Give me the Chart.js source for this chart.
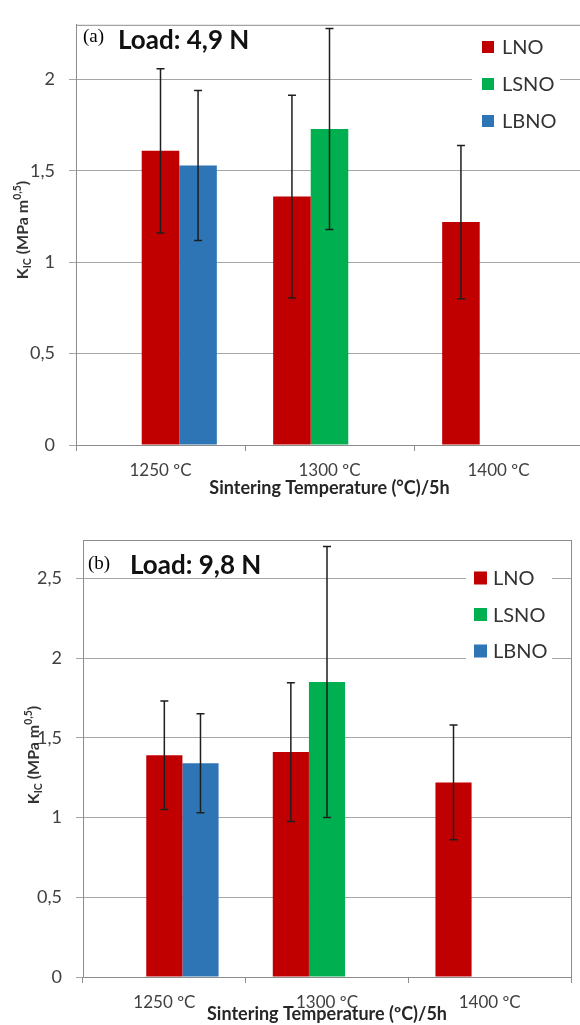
<!DOCTYPE html>
<html>
<head>
<meta charset="utf-8">
<script src="https://cdn.jsdelivr.net/npm/chart.js@4.4.1/dist/chart.umd.min.js"></script>
<style>
  html, body { margin: 0; padding: 0; background: #fff; overflow: hidden; }
  .panel { position: absolute; left: 0; }
</style>
</head>
<body>
<div class="panel" style="top:0"><canvas id="chart-a" width="590" height="500"></canvas></div>
<div class="panel" style="top:500px"><canvas id="chart-b" width="580" height="525"></canvas></div>
<script>
const categories = ['1250 ºC', '1300 ºC', '1400 ºC'];
const seriesNames = ['LNO', 'LSNO', 'LBNO'];
const seriesColors = ['#C00000', '#00B050', '#2E75B6'];

// (a) Load 4,9 N
const lnoA = [1.61, 1.36, 1.22];
const lnoErrA = [0.45, 0.555, 0.42];
const lsnoA = [null, 1.73, null];
const lsnoErrA = [null, 0.55, null];
const lbnoA = [1.53, null, null];
const lbnoErrA = [0.41, null, null];

// (b) Load 9,8 N
const lnoB = [1.39, 1.41, 1.22];
const lnoErrB = [0.34, 0.435, 0.36];
const lsnoB = [null, 1.85, null];
const lsnoErrB = [null, 0.85, null];
const lbnoB = [1.34, null, null];
const lbnoErrB = [0.31, null, null];

const yMaxA = 2.3;
const yMaxB = 2.74;
const yStep = 0.5;

const FONT = 'Lato';
const TEXT = '#404040';

// the 1250 ºC LNO bar sits in the middle slot of its group in the original figure,
// so it gets its own stack shared with LSNO (and is left out of the legend)
function buildDatasets(lno, lnoErr, lsno, lsnoErr, lbno, lbnoErr){
  return [
    {label: seriesNames[0], data: lno.map((v, i) => i === 0 ? null : v), errors: lnoErr.map((v, i) => i === 0 ? null : v),
      backgroundColor: seriesColors[0], stack: 's1'},
    {label: seriesNames[0], data: lno.map((v, i) => i === 0 ? v : null), errors: lnoErr.map((v, i) => i === 0 ? v : null),
      backgroundColor: seriesColors[0], stack: 's2', inLegend: false},
    {label: seriesNames[1], data: lsno, errors: lsnoErr, backgroundColor: seriesColors[1], stack: 's2'},
    {label: seriesNames[2], data: lbno, errors: lbnoErr, backgroundColor: seriesColors[2], stack: 's3'}
  ];
}

const errorBars = {
  id: 'errorBars',
  afterDatasetsDraw(chart){
    const ctx = chart.ctx;
    const y = chart.scales.y;
    ctx.save();
    ctx.strokeStyle = '#1e1e1e';
    ctx.lineWidth = 1.5;
    chart.data.datasets.forEach((ds, i) => {
      chart.getDatasetMeta(i).data.forEach((bar, j) => {
        const v = ds.data[j], e = ds.errors[j];
        if (v == null || e == null) return;
        const yt = y.getPixelForValue(v + e), yb = y.getPixelForValue(v - e);
        ctx.beginPath();
        ctx.moveTo(bar.x, yt); ctx.lineTo(bar.x, yb);
        ctx.moveTo(bar.x - 4, yt); ctx.lineTo(bar.x + 4, yt);
        ctx.moveTo(bar.x - 4, yb); ctx.lineTo(bar.x + 4, yb);
        ctx.stroke();
      });
    });
    ctx.restore();
  }
};

function drawYTitle(ctx, x, y){
  const parts = [
    {t: 'K', f: `bold 16px ${FONT}`, dy: 0},
    {t: 'IC', f: `bold 10.5px ${FONT}`, dy: 3},
    {t: ' (MPa m', f: `bold 16px ${FONT}`, dy: 0},
    {t: '0,5', f: `bold 10.5px ${FONT}`, dy: -7},
    {t: ')', f: `bold 16px ${FONT}`, dy: 0}
  ];
  ctx.save();
  ctx.translate(x, y);
  ctx.rotate(-Math.PI / 2);
  let total = 0;
  parts.forEach(p => { ctx.font = p.f; p.w = ctx.measureText(p.t).width; total += p.w; });
  let cx = -total / 2;
  ctx.fillStyle = '#333';
  ctx.textBaseline = 'alphabetic';
  parts.forEach(p => { ctx.font = p.f; ctx.fillText(p.t, cx, 6 + p.dy); cx += p.w; });
  ctx.restore();
}

const panelDecor = {
  id: 'panelDecor',
  beforeDatasetsDraw(chart){
    const {ctx, chartArea: a} = chart;
    ctx.save();
    ctx.strokeStyle = '#8c8c8c';
    ctx.lineWidth = 1;
    ctx.strokeRect(a.left + 0.5, a.top + 0.5, a.right - a.left, a.bottom - a.top);
    ctx.restore();
  },
  afterDraw(chart, args, o){
    const ctx = chart.ctx;
    ctx.save();
    ctx.textBaseline = 'middle';
    ctx.fillStyle = '#000';
    ctx.font = '19px "Liberation Serif"';
    ctx.fillText(o.tag, o.tagX, o.tagY);
    ctx.fillStyle = '#111';
    ctx.font = `bold 26px ${FONT}`;
    ctx.fillText(o.load, o.loadX, o.loadY);

    drawYTitle(ctx, o.yTitleX, o.yTitleY);

    const lg = o.legend;
    ctx.fillStyle = '#fff';
    ctx.fillRect(lg.x, lg.y, lg.w, lg.h);
    chart.data.datasets.filter(d => d.inLegend !== false).forEach((d, k) => {
      const cy = lg.firstRow + k * lg.rowH;
      ctx.fillStyle = d.backgroundColor;
      ctx.fillRect(lg.boxX, cy - lg.box / 2, lg.box, lg.box);
      ctx.fillStyle = '#333';
      ctx.font = `20px ${FONT}`;
      ctx.fillText(d.label, lg.textX, cy + 1);
    });
    ctx.restore();
  }
};

function makeOptions(yMax, yWidth, xHeight, padding, xTitle, titlePad, decor){
  return {
    responsive: false,
    animation: false,
    layout: {padding: padding},
    datasets: {bar: {categoryPercentage: 2 / 3, barPercentage: 1}},
    plugins: {legend: {display: false}, tooltip: {enabled: false}, panelDecor: decor},
    scales: {
      x: {
        grid: {drawOnChartArea: false, tickLength: 6, color: '#8c8c8c', offset: true},
        border: {color: '#8c8c8c'},
        ticks: {font: {family: FONT, size: 17}, color: TEXT, padding: 9, maxRotation: 0},
        title: {display: true, text: xTitle, font: {family: FONT, size: 18, weight: 'bold'}, color: '#262626',
          padding: {top: 0, bottom: titlePad}},
        afterFit: s => { s.height = xHeight; }
      },
      y: {
        min: 0,
        max: yMax,
        ticks: {stepSize: yStep, font: {family: FONT, size: 18}, color: TEXT, padding: 14,
          callback: v => String(v).replace('.', ',')},
        afterBuildTicks: s => { s.ticks = s.ticks.filter(t => Math.abs(t.value / yStep - Math.round(t.value / yStep)) < 1e-6); },
        grid: {color: '#a6a6a6', tickLength: 7},
        border: {color: '#8c8c8c'},
        afterFit: s => { s.width = yWidth; }
      }
    }
  };
}

new Chart(document.getElementById('chart-a'), {
  type: 'bar',
  data: {labels: categories, datasets: buildDatasets(lnoA, lnoErrA, lsnoA, lsnoErrA, lbnoA, lbnoErrA)},
  options: makeOptions(yMaxA, 76, 55, {left: 0, right: 7, top: 12, bottom: 0},
    'Sintering Temperature (°C)/5h', 1,
    {tag: '(a)', tagX: 83, tagY: 37, load: 'Load: 4,9 N', loadX: 118, loadY: 41, yTitleX: 22, yTitleY: 230,
      legend: {x: 472, y: 28, w: 88, h: 112, boxX: 482, box: 12, textX: 502, firstRow: 47, rowH: 37}}),
  plugins: [errorBars, panelDecor]
});

new Chart(document.getElementById('chart-b'), {
  type: 'bar',
  data: {labels: categories, datasets: buildDatasets(lnoB, lnoErrB, lsnoB, lsnoErrB, lbnoB, lbnoErrB)},
  options: makeOptions(yMaxB, 83, 48, {left: 0, right: 9, top: 40, bottom: 0},
    'Sintering Temperature (ºC)/5h', 0,
    {tag: '(b)', tagX: 88, tagY: 64, load: 'Load: 9,8 N', loadX: 130, loadY: 66, yTitleX: 33, yTitleY: 255,
      legend: {x: 466, y: 62, w: 86, h: 106, boxX: 474, box: 13, textX: 493, firstRow: 78, rowH: 36.5}}),
  plugins: [errorBars, panelDecor]
});
</script>
</body>
</html>
